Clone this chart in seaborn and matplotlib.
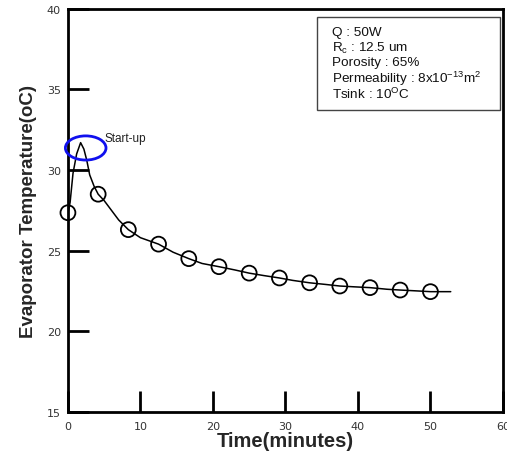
import matplotlib
matplotlib.use("Agg")
import matplotlib.pyplot as plt
from matplotlib.patches import Ellipse
import seaborn as sns
import pandas as pd

# Evaporator temperature trace (continuous record)
curve_time = [0.0, 0.3, 0.7, 1.2, 1.75, 2.2, 2.6, 3.0, 3.6, 4.17, 5.0, 6.0, 7.0,
              8.33, 10.0, 12.5, 14.5, 16.67, 18.5, 20.83, 23.0, 25.0, 27.0,
              29.17, 31.0, 33.33, 35.5, 37.5, 39.5, 41.67, 44.0, 45.83, 48.0,
              50.0, 52.8]
curve_temp = [27.3, 28.0, 29.8, 31.0, 31.7, 31.3, 30.6, 29.7, 29.0, 28.5, 28.1,
              27.5, 26.9, 26.3, 25.8, 25.4, 24.9, 24.5, 24.2, 24.0, 23.8, 23.6,
              23.45, 23.3, 23.15, 23.0, 22.9, 22.8, 22.75, 22.7, 22.6, 22.55,
              22.5, 22.45, 22.45]

# Sampled points shown as open circles
marker_time = [0.0, 4.17, 8.33, 12.5, 16.67, 20.83, 25.0, 29.17, 33.33, 37.5,
               41.67, 45.83, 50.0]
marker_temp = [27.35, 28.5, 26.3, 25.4, 24.5, 24.0, 23.6, 23.3, 23.0, 22.8,
               22.7, 22.55, 22.45]

x_ticks = [0, 10, 20, 30, 40, 50, 60]
y_ticks = [15, 20, 25, 30, 35, 40]

info_lines = [
    "Q : 50W",
    r"R$_{\mathregular{c}}$ : 12.5 um",
    "Porosity : 65%",
    r"Permeability : 8x10$^{\mathregular{-13}}$m$^{\mathregular{2}}$",
    r"Tsink : 10$^{\mathregular{O}}$C",
]

sns.set_theme(style="white")
plt.rcParams["font.family"] = ["Liberation Sans", "DejaVu Sans"]
plt.rcParams["mathtext.fontset"] = "custom"
plt.rcParams["mathtext.rm"] = "Liberation Sans"

fig = plt.figure(figsize=(5.07, 4.52), dpi=100)
ax = fig.add_axes([0.134, 0.087, 0.858, 0.891])

curve_df = pd.DataFrame({"time": curve_time, "temp": curve_temp})
marker_df = pd.DataFrame({"time": marker_time, "temp": marker_temp})

sns.lineplot(data=curve_df, x="time", y="temp", ax=ax, color="black",
             linewidth=1.1, sort=False)
sns.scatterplot(data=marker_df, x="time", y="temp", ax=ax, s=115,
                facecolor="none", edgecolor="black", linewidth=1.3, zorder=3,
                clip_on=False)

ax.set_xlim(0, 60)
ax.set_ylim(15, 40)
ax.set_xticks(x_ticks)
ax.set_yticks(y_ticks)

for side in ["left", "bottom", "right", "top"]:
    ax.spines[side].set_visible(True)
    ax.spines[side].set_color("black")
    ax.spines[side].set_linewidth(2)

ax.tick_params(axis="both", direction="in", length=15, width=2,
               labelsize=8, colors="black",
               bottom=True, left=True, top=False, right=False)
ax.tick_params(axis="x", pad=7)
ax.tick_params(axis="y", pad=5)
for lab in ax.get_xticklabels() + ax.get_yticklabels():
    lab.set_color("#333333")
    lab.set_family("DejaVu Sans")

ax.set_xlabel("Time(minutes)", fontsize=14.5, fontweight="bold", labelpad=0)
ax.set_ylabel("Evaporator Temperature(oC)", fontsize=13.5, fontweight="bold",
              labelpad=7)

# Start-up highlight
ax.add_patch(Ellipse((2.45, 31.37), width=5.6, height=1.5, fill=False,
                     edgecolor="#1010ee", linewidth=2, zorder=4, clip_on=False))
ax.text(5.0, 32.0, "Start-up", fontsize=8.5, color="#222222",
        ha="left", va="center")

# Operating conditions box
ax.add_patch(plt.Rectangle((0.573, 0.748), 0.42, 0.232,
                           transform=ax.transAxes, fill=False,
                           edgecolor="#444444", linewidth=1, zorder=5))
for i, line in enumerate(info_lines):
    ax.text(0.607, 0.9436 - i * 0.0382, line,
            transform=ax.transAxes, fontsize=9.7, color="#111111",
            ha="left", va="center")

fig.savefig("out.png", dpi=100)
